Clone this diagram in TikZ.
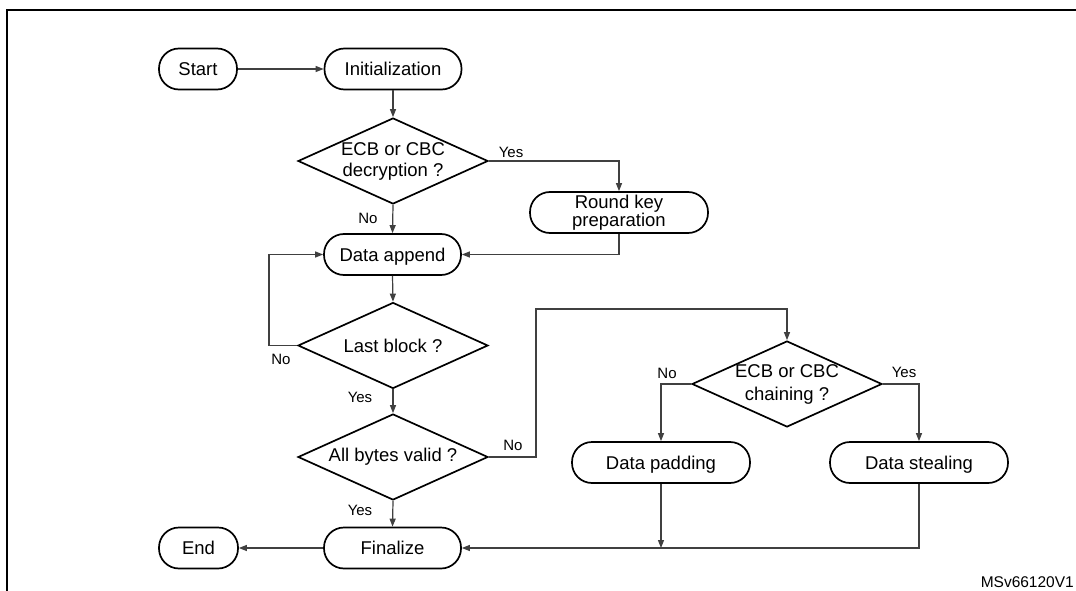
\documentclass[tikz,border=0pt]{standalone}
\usepackage{fontspec}
\setmainfont{Liberation Sans}
\usetikzlibrary{shapes.geometric,arrows.meta}
\begin{document}
\begin{tikzpicture}[x=1pt,y=-1pt,
  term/.style={draw=black, line width=1.7pt, rounded corners=20pt,
    minimum height=41pt, inner sep=0pt,
    font=\fontsize{18.5}{18.5}\selectfont, text height=13.2pt, text depth=0pt},
  term2/.style={draw=black, line width=1.7pt, rounded corners=20pt,
    minimum height=41pt, inner sep=0pt, align=center,
    font=\fontsize{18.5}{13.3}\selectfont},
  dec/.style={draw=black, line width=1.7pt, diamond, shape aspect=2.2,
    inner sep=-12pt, minimum width=190pt, minimum height=86pt, align=center},
  conn/.style={draw=black!75, line width=1.2pt},
  arr/.style={conn, -{Triangle[length=8pt,width=6pt]}},
  lab/.style={font=\fontsize{15}{15}\selectfont, inner sep=0pt}
]
\useasboundingbox (0,0) rectangle (1076,591);
\fill[white] (0,0) rectangle (1076,591);
% frame
\draw[line width=2.5pt] (7,591) -- (7,10) -- (1076,10);

% nodes
\node[term, minimum width=78pt] (start) at (198,69) {Start};
\node[term, minimum width=137pt] (init) at (393,69) {Initialization};
\node[dec, font=\fontsize{18.5}{21}\selectfont] (d1) at (393,161) {ECB or CBC\\decryption ?};
\node[term2, minimum width=178pt] (key) at (619,212.5) {Round key\\preparation};
\node[term, minimum width=137pt] (app) at (392.5,254.5) {Data append};
\node[dec, font=\fontsize{18.5}{18.5}\selectfont] (d2) at (393,345.5) {Last block ?};
\node[dec, font=\fontsize{18.5}{18.5}\selectfont] (d3) at (393,457) {All bytes valid ?};
\node[term, minimum width=137pt] (fin) at (392.5,548) {Finalize};
\node[term, minimum width=79pt] (end) at (198.5,548) {End};
\node[dec, font=\fontsize{18.5}{23}\selectfont] (d4) at (787,384) {ECB or CBC\\chaining ?};
\node[term, minimum width=178pt] (pad) at (661,462.5) {Data padding};
\node[term, minimum width=178pt] (steal) at (919,462.5) {Data stealing};

\coordinate (loopl) at (269,345.5);
\coordinate (up) at (536,309);

% connectors
\draw[arr] (start.east) -- (init.west);
\draw[arr] (init.south) -- (d1.north);
\draw[arr] (d1.south) -- (app.north);
\draw[arr] (d1.east) -| (key.north);
\draw[arr] (key.south) |- (app.east);
\draw[arr] (app.south) -- (d2.north);
\draw[arr] (d2.west) -- (loopl) |- (app.west);
\draw[arr] (d2.south) -- (d3.north);
\draw[arr] (d3.east) -| (up) -| (d4.north);
\draw[arr] (d3.south) -- (fin.north);
\draw[arr] (fin.west) -- (end.east);
\draw[arr] (d4.west) -| (pad.north);
\draw[arr] (d4.east) -| (steal.north);
\draw[arr] (steal.south) |- (fin.east);
\draw[arr] (pad.south) -- (pad.south |- fin.east);

% labels
\node[lab] at (511,152) {Yes};
\node[lab] at (368,218) {No};
\node[lab] at (281,359) {No};
\node[lab] at (360,397) {Yes};
\node[lab] at (513,445) {No};
\node[lab] at (360,510) {Yes};
\node[lab] at (667,373) {No};
\node[lab] at (904,372) {Yes};

\node[font=\fontsize{15.5}{15.5}\selectfont, anchor=base east, inner sep=0pt] (ref) at (1074,587) {MSv66120V1};
\end{tikzpicture}
\end{document}
